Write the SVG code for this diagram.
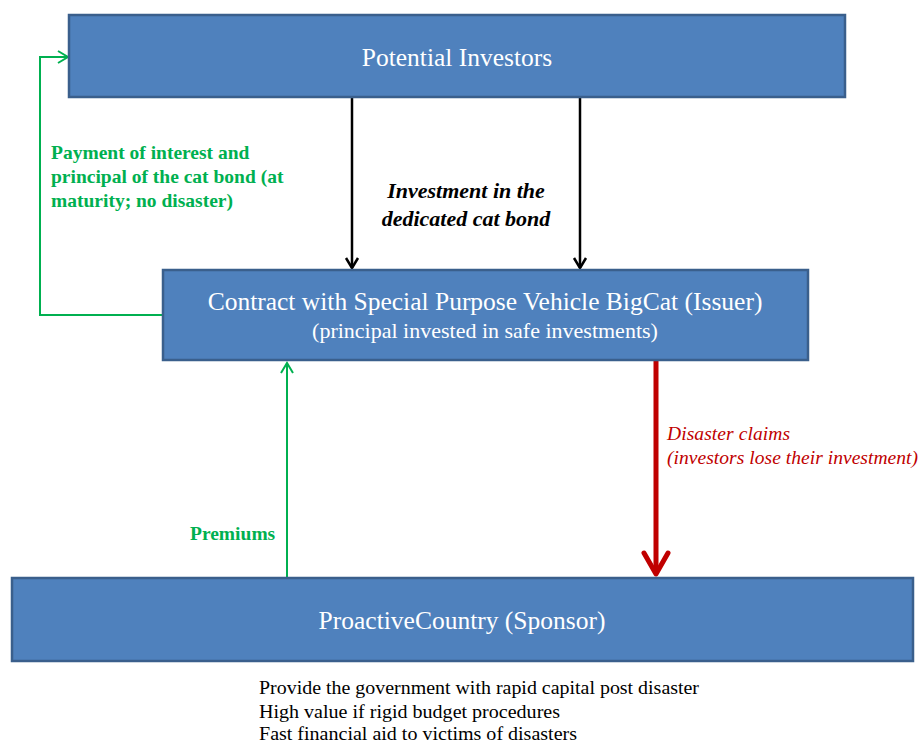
<svg xmlns="http://www.w3.org/2000/svg" width="922" height="743" viewBox="0 0 922 743">
<style>
.box{fill:#4F81BD;stroke:#3A5F8C;stroke-width:2.5}
.bt{font-family:"Liberation Serif",serif;fill:#fff;text-anchor:middle}
.g{font-family:"Liberation Serif",serif;font-weight:bold;fill:#00B050;font-size:19.5px}
.r{font-family:"Liberation Serif",serif;font-style:italic;fill:#C00000;font-size:19.5px}
.k{font-family:"Liberation Serif",serif;font-style:italic;font-weight:bold;fill:#000;font-size:22px;text-anchor:middle}
.n{font-family:"Liberation Serif",serif;fill:#000;font-size:19px}
</style>
<g id="connectors">
<line x1="352" y1="98" x2="352" y2="268" stroke="#000" stroke-width="2.5"/>
<path d="M346,258 L352,268 L358,258" fill="none" stroke="#000" stroke-width="2.5"/>
<line x1="580" y1="98" x2="580" y2="268" stroke="#000" stroke-width="2.5"/>
<path d="M574,258 L580,268 L586,258" fill="none" stroke="#000" stroke-width="2.5"/>
<polyline points="163,315 40,315 40,57 67,57" fill="none" stroke="#00B050" stroke-width="2"/>
<path d="M58,51 L68,57 L58,63" fill="none" stroke="#00B050" stroke-width="2"/>
<line x1="287" y1="578" x2="287" y2="363" stroke="#00B050" stroke-width="2"/>
<path d="M281,373 L287,363 L293,373" fill="none" stroke="#00B050" stroke-width="2"/>
<line x1="656" y1="361" x2="656" y2="574" stroke="#C00000" stroke-width="5"/>
<path d="M644,553 L656,574 L668,553" fill="none" stroke="#C00000" stroke-width="5" stroke-linecap="round" stroke-linejoin="round"/>
<text class="k" x="466" y="198">Investment in the</text>
<text class="k" x="466" y="226">dedicated cat bond</text>
<text class="g" x="51" y="159">Payment of interest and</text>
<text class="g" x="51" y="183">principal of the cat bond (at</text>
<text class="g" x="51" y="207">maturity; no disaster)</text>
<text class="g" x="190" y="540">Premiums</text>
<text class="r" x="667" y="440" textLength="123" lengthAdjust="spacing">Disaster claims</text>
<text class="r" x="667" y="464" textLength="251" lengthAdjust="spacing">(investors lose their investment)</text>
</g>
<g id="investors">
<rect class="box" x="69" y="15" width="776" height="82"/>
<text class="bt" x="457" y="66" font-size="25.5">Potential Investors</text>
</g>
<g id="spv">
<rect class="box" x="163" y="270" width="645" height="90"/>
<text class="bt" x="485" y="310" font-size="25.5">Contract with Special Purpose Vehicle BigCat (Issuer)</text>
<text class="bt" x="485" y="338" font-size="22">(principal invested in safe investments)</text>
</g>
<g id="sponsor">
<rect class="box" x="12" y="578" width="901" height="83"/>
<text class="bt" x="462" y="629" font-size="25.5">ProactiveCountry (Sponsor)</text>
</g>
<g id="notes">
<text class="n" x="259" y="694" textLength="440" lengthAdjust="spacingAndGlyphs">Provide the government with rapid capital post disaster</text>
<text class="n" x="259" y="718" textLength="301" lengthAdjust="spacingAndGlyphs">High value if rigid budget procedures</text>
<text class="n" x="259" y="740" textLength="318" lengthAdjust="spacingAndGlyphs">Fast financial aid to victims of disasters</text>
</g>
</svg>
